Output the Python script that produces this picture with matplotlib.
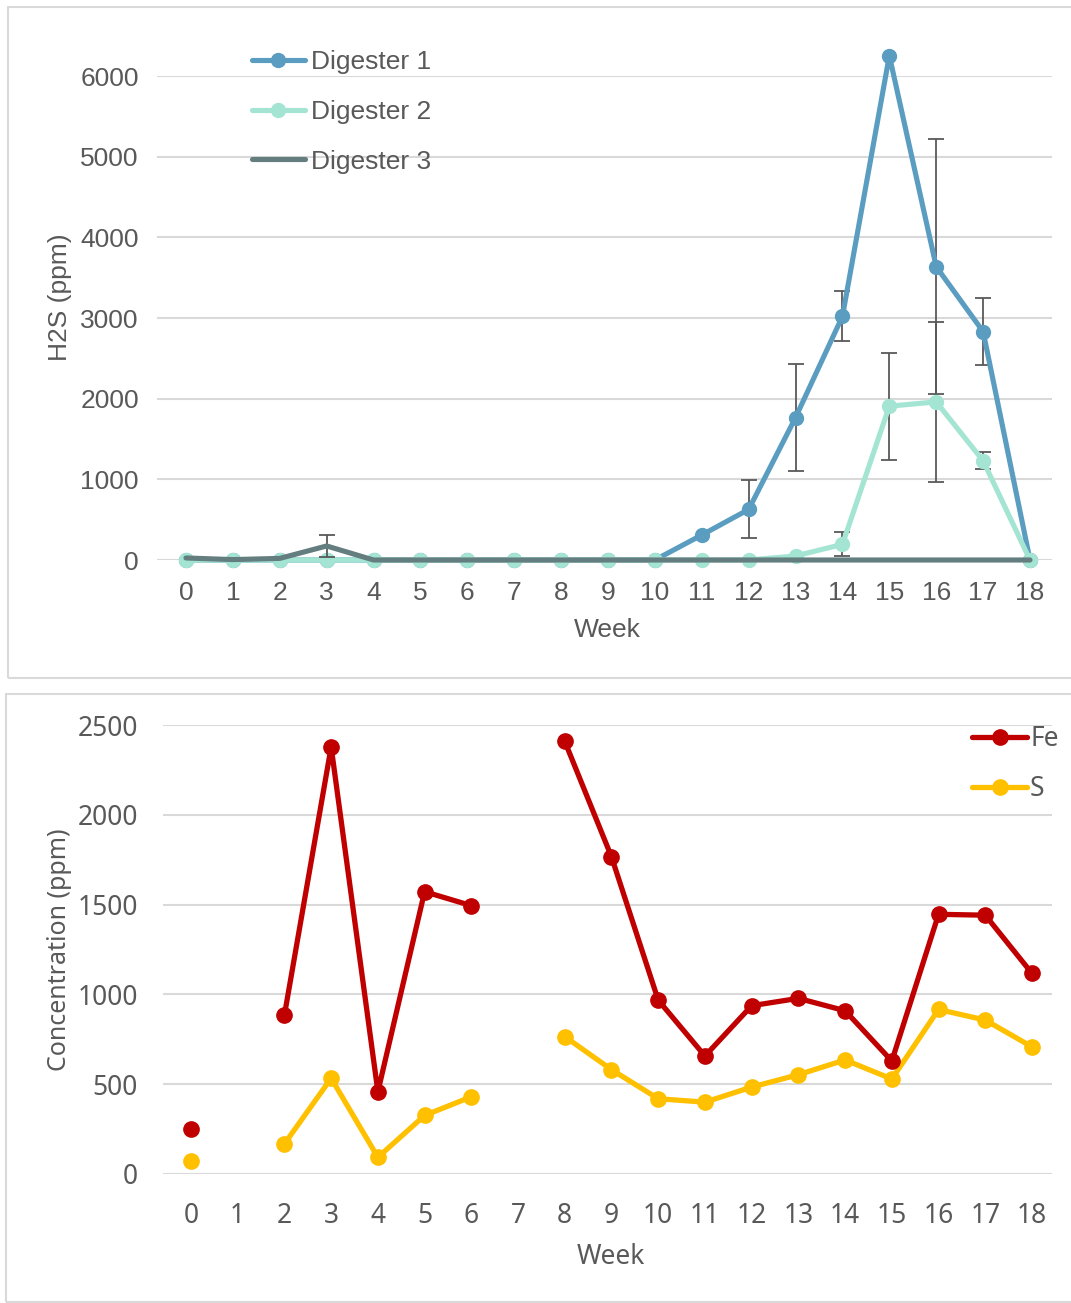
import numpy as np
import matplotlib.pyplot as plt
from matplotlib.patches import Rectangle

W, H = 1071, 1303

weeks = np.arange(19)

# top chart: H2S per digester
digester1 = [0, 0, 0, 0, 0, 0, 0, 0, 0, 0, 0, 310, 627, 1766, 3021, 6252, 3636, 2831, 0]
digester1_err = [0, 0, 0, 0, 0, 0, 0, 0, 0, 0, 0, 0, 359, 667, 308, 0, 1583, 415, 0]
digester2 = [0, 0, 0, 0, 0, 0, 0, 0, 0, 0, 0, 0, 0, 50, 194, 1907, 1960, 1230, 0]
digester2_err = [0, 0, 0, 0, 0, 0, 0, 0, 0, 0, 0, 0, 0, 0, 147, 664, 990, 103, 0]
digester3 = [25, 5, 20, 174, 0, 0, 0, 0, 0, 0, 0, 0, 0, 0, 0, 0, 0, 0, 0]
digester3_err = [0, 0, 0, 136, 0, 0, 0, 0, 0, 0, 0, 0, 0, 0, 0, 0, 0, 0, 0]

# bottom chart: Fe and S (weeks 1 and 7 missing)
fe = [253, np.nan, 885, 2378, 458, 1572, 1494, np.nan, 2409, 1766, 968, 657,
      937, 978, 909, 629, 1446, 1441, 1117]
s = [74, np.nan, 168, 533, 93, 326, 430, np.nan, 765, 581, 419, 400,
     484, 553, 635, 529, 916, 857, 708]

TXT = '#595959'
GRID = '#D9D9D9'


def px_axes(fig, left, top, right, bottom):
    return fig.add_axes([left / W, 1 - bottom / H, (right - left) / W, (bottom - top) / H])


def style(ax, family, size, xpad, ypad):
    for sp in ax.spines.values():
        sp.set_visible(False)
    ax.grid(axis='y', color=GRID, lw=1.5)
    ax.set_axisbelow(True)
    ax.tick_params(length=0, colors=TXT, labelsize=size)
    ax.tick_params(axis='x', pad=xpad)
    ax.tick_params(axis='y', pad=ypad)
    for lab in ax.get_xticklabels() + ax.get_yticklabels():
        lab.set_family(family)


fig = plt.figure(figsize=(W / 100, H / 100), dpi=100)

# panel borders
for (l, t, r, b) in [(8, 7, 1080, 678), (6, 694, 1080, 1302)]:
    fig.patches.append(Rectangle((l / W, 1 - b / H), (r - l) / W, (b - t) / H,
                                 transform=fig.transFigure, fill=False,
                                 edgecolor=GRID, lw=1.5))

# ---- top chart
ax1 = px_axes(fig, 157, 76, 1052, 560)
ax1.set_xlim(-0.618, 18.469)
ax1.set_ylim(0, 6000)
ax1.set_xticks(weeks)
ax1.set_yticks(range(0, 6001, 1000))

series = [
    (digester1, digester1_err, '#5A9DC1', 'o', 'Digester 1'),
    (digester2, digester2_err, '#A3E4D3', 'o', 'Digester 2'),
    (digester3, digester3_err, '#647E80', None, 'Digester 3'),
]
handles = []
for i, (vals, errs, col, mk, lab) in enumerate(series):
    vals = np.array(vals, float)
    errs = np.array(errs, float)
    m = errs > 0
    ax1.errorbar(weeks[m], vals[m], yerr=errs[m], fmt='none', ecolor='#595959',
                 elinewidth=1.3, capsize=6, capthick=1.3, zorder=2 + i, clip_on=False)
    ln, = ax1.plot(weeks, vals, color=col, lw=3.7, marker=mk, ms=10,
                   solid_capstyle='round', zorder=3 + i, clip_on=False, label=lab)
    handles.append(ln)

style(ax1, 'Liberation Sans', 19, 15, 13)
ax1.legend(handles=handles, loc='upper left', bbox_to_anchor=(252 / W, 1 - 50 / H),
           bbox_transform=fig.transFigure, frameon=False, borderpad=0, borderaxespad=0,
           handlelength=2.0, handletextpad=0.25, labelspacing=0.98,
           prop={'family': 'Liberation Sans', 'size': 19}, labelcolor=TXT)
fig.text(60 / W, 1 - 297 / H, 'H2S (ppm)', rotation=90, ha='center', va='center',
         color=TXT, fontsize=19, family='Liberation Sans')
fig.text(607 / W, 1 - 630 / H, 'Week', ha='center', va='center',
         color=TXT, fontsize=19, family='Liberation Sans')

# ---- bottom chart
ax2 = px_axes(fig, 163, 725, 1052, 1174)
ax2.set_xlim(-0.599, 18.428)
ax2.set_ylim(0, 2500)
ax2.set_xticks(weeks)
ax2.set_yticks(range(0, 2501, 500))

h_fe, = ax2.plot(weeks, fe, color='#C00000', lw=3.8, marker='o', ms=11,
                 solid_capstyle='round', zorder=4, clip_on=False, label='Fe')
h_s, = ax2.plot(weeks, s, color='#FFC000', lw=3.8, marker='o', ms=11,
                solid_capstyle='round', zorder=3, clip_on=False, label='S')

style(ax2, 'Noto Sans', 19, 20, 18)
ax2.legend(handles=[h_fe, h_s], loc='upper left', bbox_to_anchor=(972 / W, 1 - 725 / H),
           bbox_transform=fig.transFigure, frameon=False, borderpad=0, borderaxespad=0,
           handlelength=2.1, handletextpad=0.1, labelspacing=0.83,
           prop={'family': 'Noto Sans', 'size': 19}, labelcolor=TXT)
fig.text(60 / W, 1 - 950 / H, 'Concentration (ppm)', rotation=90, ha='center', va='center',
         color=TXT, fontsize=18, family='Noto Sans')
fig.text(611 / W, 1 - 1257 / H, 'Week', ha='center', va='center',
         color=TXT, fontsize=19, family='Noto Sans')

fig.savefig('out.png', dpi=100)
